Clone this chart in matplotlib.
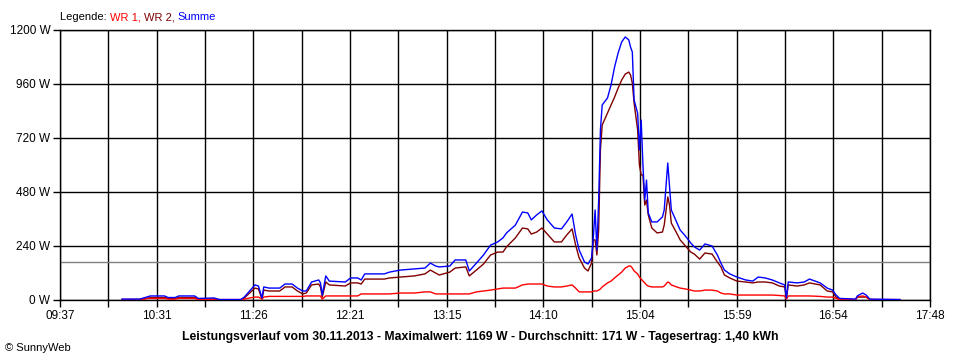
import matplotlib
matplotlib.use("Agg")
import matplotlib.pyplot as plt
import numpy as np

times = ["10:12","10:18","10:22","10:27","10:28","10:36","10:38","10:42","10:44","10:53",
         "10:55","11:04","11:07","11:19","11:21","11:24","11:27","11:29","11:31","11:32",
         "11:35","11:41","11:44","11:48","11:51","11:54","11:56","11:59","12:03","12:04",
         "12:05","12:07","12:09","12:18","12:21","12:25","12:27","12:29","12:40","12:43",
         "12:49","12:57","13:03","13:06","13:09","13:11","13:17","13:20","13:26","13:28",
         "13:32","13:36","13:40","13:44","13:47","13:49","13:54","13:58","14:01","14:03",
         "14:06","14:09","14:12","14:16","14:20","14:23","14:26","14:28","14:30","14:33",
         "14:35","14:37","14:38","14:39","14:40","14:41","14:42","14:43","14:46","14:48",
         "14:50","14:52","14:54","14:56","14:58","14:59","15:00","15:01","15:03","15:04",
         "15:05","15:06","15:07","15:08","15:09","15:11","15:14","15:17","15:18","15:20",
         "15:21","15:22","15:25","15:27","15:30","15:33","15:35","15:38","15:41","15:45",
         "15:48","15:50","15:52","15:55","15:59","16:04","16:08","16:11","16:15","16:19",
         "16:23","16:26","16:27","16:28","16:33","16:37","16:40","16:46","16:50","16:53",
         "16:55","16:57","17:06","17:07","17:10","17:12","17:14","17:31"]

summe = [4,4,4,16,18,18,11,11,18,18,
         7,9,2,2,13,40,67,62,9,58,
         53,53,71,71,53,40,40,80,89,76,
         22,107,84,80,98,98,89,116,116,124,
         133,138,142,164,151,147,151,178,178,129,
         164,200,244,258,276,298,333,391,387,356,
         378,396,356,320,316,347,382,289,222,169,
         160,187,280,400,222,444,756,867,898,956,
         1036,1098,1147,1169,1156,1124,1102,889,830,667,
         800,600,444,533,387,347,347,369,400,609,
         502,400,347,311,284,253,236,222,249,240,
         200,164,133,116,102,89,84,102,98,89,
         76,67,9,80,76,80,93,76,53,44,
         22,7,4,18,31,22,4,2]

wr2 = [2,2,2,9,11,11,7,7,11,11,
       4,4,0,0,9,31,53,49,4,44,
       40,40,58,58,40,27,31,67,71,58,
       13,80,67,62,76,76,71,93,93,98,
       102,107,116,133,120,111,124,142,147,107,
       133,160,200,213,213,236,276,320,316,293,
       302,320,293,258,258,289,316,244,187,142,
       129,164,267,267,200,311,667,778,831,867,
       902,942,978,1004,1013,1000,964,876,756,600,
       556,556,422,444,378,320,298,302,333,458,
       422,342,298,267,240,213,204,182,209,204,
       169,147,111,98,84,80,76,80,80,76,
       62,58,9,67,62,67,76,67,40,36,
       13,4,2,13,13,13,2,0]

wr1 = [2,2,2,7,7,7,4,4,7,7,
       2,4,2,2,4,9,13,13,4,13,
       16,16,16,16,16,16,18,18,18,18,
       4,18,18,18,18,18,27,27,27,27,
       31,31,36,36,27,27,27,27,27,27,
       36,40,44,49,53,53,53,67,71,71,
       71,71,62,58,58,62,67,53,36,36,
       36,36,40,40,40,44,49,58,76,84,
       98,111,124,142,151,151,142,129,116,102,
       93,84,76,67,62,58,58,58,62,80,
       76,67,58,53,49,44,40,40,44,44,
       40,31,27,27,22,22,22,22,22,22,
       20,18,4,18,18,18,18,16,13,13,
       7,2,2,13,18,13,2,2]

durchschnitt = 171
y_ticks = [0, 240, 480, 720, 960, 1200]
x_labels = ["09:37","10:31","11:26","12:21","13:15","14:10","15:04","15:59","16:54","17:48"]

def to_min(s):
    h, m = s.split(":")
    return int(h) * 60 + int(m)

t = np.array([to_min(s) for s in times], dtype=float)
xmin, xmax = to_min(x_labels[0]), to_min(x_labels[-1])

FONT = "Liberation Sans"
fig = plt.figure(figsize=(9.6, 3.6), dpi=100)
ax = fig.add_axes([60/960, 1 - 300/360, 870/960, 270/360])

ax.plot(t, wr2, color="#800000", lw=1.0, zorder=3)
ax.plot(t, wr1, color="#ff0000", lw=1.0, zorder=4)
ax.plot(t, summe, color="#0000ff", lw=1.0, zorder=5)
ax.axhline(durchschnitt, color="#808080", lw=1.0, zorder=2)

ax.set_xlim(xmin, xmax)
ax.set_ylim(0, 1200)
grid_x = np.linspace(xmin, xmax, 19)
ax.set_xticks(grid_x)
ax.set_xticklabels([x_labels[i // 2] if i % 2 == 0 else "" for i in range(19)],
                   fontsize=8.5, family=FONT)
ax.set_yticks(y_ticks)
ax.set_yticklabels([f"{v} W" for v in y_ticks], fontsize=8.5, family=FONT)
ax.tick_params(direction="out", length=5, width=1, color="black", pad=2)
ax.grid(True, color="black", lw=1, zorder=1)
for s in ax.spines.values():
    s.set_color("black")
    s.set_linewidth(1)

# legend text pieces
renderer = fig.canvas.get_renderer()
x0 = 60 / 960
yl = 1 - 17 / 360
parts = [("Legende: ", "black"), ("WR 1, ", "#ff0000"), ("WR 2, ", "#800000"), ("Summe", "#0000ff")]
for txt, col in parts:
    tt = fig.text(x0, yl, txt, color=col, fontsize=8, family=FONT, va="center", ha="left")
    bb = tt.get_window_extent(renderer=renderer)
    x0 += bb.width / fig.bbox.width

fig.text(480 / 960, 1 - 337 / 360,
         "Leistungsverlauf vom 30.11.2013 - Maximalwert: 1169 W - Durchschnitt: 171 W - Tagesertrag: 1,40 kWh",
         fontsize=8.8, fontweight="bold", family=FONT, ha="center", va="center")
fig.text(5 / 960, 1 - 348 / 360, "© SunnyWeb", fontsize=8, family=FONT, ha="left", va="center")

fig.savefig("out.png", dpi=100)
